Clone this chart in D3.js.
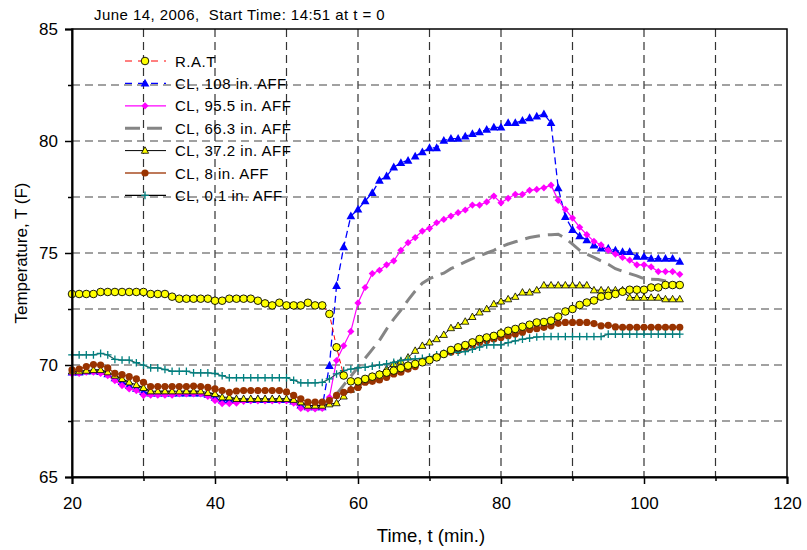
<!DOCTYPE html>
<html>
<head>
<meta charset="utf-8">
<script src="https://cdn.jsdelivr.net/npm/d3@7"></script>
<style>
  body { margin: 0; background: #fff; }
  text { font-family: "Liberation Sans", Arial, sans-serif; }
</style>
</head>
<body>
<script>
// time, min (one reading per minute)
var times = [20,21,22,23,24,25,26,27,28,29,30,31,32,33,34,35,36,37,38,39,40,41,42,43,44,45,46,47,48,49,
  50,51,52,53,54,55,56,57,58,59,60,61,62,63,64,65,66,67,68,69,70,71,72,73,74,75,76,77,78,79,
  80,81,82,83,84,85,86,87,88,89,90,91,92,93,94,95,96,97,98,99,100,101,102,103,104,105];

var rat = [73.17,73.17,73.17,73.17,73.26,73.26,73.26,73.26,73.26,73.26,73.26,73.17,73.17,73.17,73.05,72.96,72.96,72.96,72.96,72.96,
  72.87,72.87,72.96,72.96,72.96,72.96,72.87,72.75,72.66,72.78,72.66,72.66,72.66,72.78,72.66,72.66,72.28,70.79,69.53,69.27,
  69.27,69.38,69.48,69.57,69.66,69.75,69.86,69.97,70.05,70.12,70.22,70.34,70.49,70.67,70.79,70.89,71.01,71.16,71.23,71.30,
  71.41,71.53,71.61,71.71,71.80,71.90,71.92,71.98,72.16,72.39,72.50,72.68,72.79,72.88,73.05,73.09,73.17,73.27,73.36,73.36,
  73.36,73.46,73.46,73.57,73.57,73.57];

var cl108 = [69.68,69.68,69.72,69.73,69.70,69.60,69.42,69.25,69.08,68.95,68.80,68.74,68.74,68.74,68.74,68.74,68.74,68.74,68.74,68.68,
  68.55,68.42,68.42,68.45,68.45,68.45,68.45,68.45,68.45,68.45,68.45,68.38,68.20,68.12,68.12,68.12,69.97,73.54,75.27,76.65,
  76.95,77.32,77.69,78.24,78.43,78.83,79.03,79.13,79.32,79.51,79.69,79.69,80.02,80.11,80.11,80.21,80.32,80.40,80.51,80.61,
  80.61,80.81,80.81,80.91,81.03,81.10,81.20,80.81,77.90,76.62,76.04,75.76,75.58,75.35,75.21,75.21,75.12,75.05,75.05,74.84,
  74.84,74.75,74.75,74.75,74.75,74.62];

var cl95 = [69.60,69.62,69.68,69.68,69.62,69.53,69.30,69.08,68.93,68.86,68.64,68.65,68.65,68.65,68.65,68.71,68.71,68.71,68.71,68.60,
  68.41,68.28,68.28,68.30,68.38,68.40,68.40,68.40,68.40,68.40,68.40,68.30,68.06,68.04,68.04,68.06,68.56,70.20,70.86,71.50,
  72.77,73.46,74.08,74.23,74.47,74.65,75.12,75.46,75.69,75.98,76.10,76.35,76.50,76.65,76.80,76.92,77.14,77.14,77.28,77.54,
  77.24,77.44,77.62,77.62,77.80,77.84,77.91,78.03,77.35,76.95,76.56,76.15,75.82,75.52,75.36,75.12,74.95,74.80,74.68,74.47,
  74.47,74.38,74.17,74.17,74.17,74.05];

var cl66 = [69.70,69.70,69.72,69.75,69.75,69.65,69.50,69.35,69.20,69.08,68.95,68.80,68.80,68.80,68.80,68.80,68.80,68.80,68.80,68.73,
  68.68,68.53,68.53,68.46,68.46,68.46,68.46,68.46,68.46,68.46,68.46,68.42,68.30,68.17,68.17,68.17,68.30,68.70,69.10,69.50,
  69.90,70.30,70.70,71.10,71.60,72.05,72.45,72.90,73.30,73.65,73.85,74.00,74.10,74.30,74.45,74.60,74.75,74.87,75.00,75.12,
  75.28,75.40,75.50,75.60,75.69,75.75,75.80,75.82,75.84,75.65,75.40,75.12,74.95,74.80,74.65,74.50,74.30,74.18,74.08,73.98,
  73.85,73.83,73.82,73.75,73.68,73.60];

var cl37 = [69.72,69.72,69.75,69.78,69.78,69.68,69.53,69.38,69.23,69.11,68.98,68.83,68.83,68.83,68.83,68.83,68.83,68.83,68.83,68.76,
  68.71,68.56,68.56,68.49,68.49,68.49,68.49,68.49,68.49,68.49,68.49,68.45,68.34,68.19,68.19,68.19,68.25,68.30,68.60,68.90,
  69.10,69.30,69.48,69.60,69.82,70.05,70.16,70.34,70.64,70.86,71.01,71.16,71.35,71.65,71.75,71.94,72.15,72.35,72.50,72.72,
  72.84,72.94,73.05,73.24,73.24,73.34,73.56,73.56,73.56,73.56,73.56,73.56,73.56,73.34,73.34,73.34,73.34,73.34,73.01,73.01,
  73.01,73.01,73.01,72.94,72.94,72.94];

var cl8 = [69.78,69.82,69.93,70.02,70.00,69.87,69.63,69.57,69.48,69.38,69.23,69.04,69.04,69.04,69.04,69.04,69.04,69.06,69.04,69.00,
  68.93,68.86,68.78,68.84,68.86,68.86,68.86,68.86,68.86,68.86,68.80,68.64,68.49,68.34,68.34,68.34,68.41,68.64,68.78,68.89,
  69.00,69.23,69.27,69.33,69.45,69.60,69.68,69.82,69.93,70.15,70.23,70.34,70.49,70.57,70.65,70.79,70.89,71.01,71.09,71.16,
  71.23,71.31,71.38,71.46,71.58,71.62,71.68,71.75,71.86,71.90,71.90,71.90,71.90,71.85,71.75,71.77,71.70,71.68,71.68,71.68,
  71.68,71.68,71.68,71.68,71.68,71.68];

var cl01 = [70.45,70.45,70.45,70.45,70.52,70.45,70.25,70.22,70.22,70.10,69.99,69.87,69.87,69.80,69.72,69.72,69.72,69.65,69.65,69.65,
  69.62,69.52,69.43,69.43,69.43,69.43,69.43,69.43,69.43,69.43,69.43,69.32,69.20,69.20,69.20,69.22,69.38,69.60,69.75,69.82,
  69.87,69.90,69.95,70.00,70.05,70.12,70.20,70.25,70.27,70.30,70.35,70.45,70.52,70.57,70.57,70.60,70.70,70.80,70.90,70.90,
  70.90,71.00,71.08,71.15,71.20,71.25,71.27,71.27,71.27,71.27,71.27,71.27,71.27,71.27,71.27,71.38,71.38,71.38,71.38,71.38,
  71.38,71.38,71.38,71.38,71.38,71.38];

var xTicks = [20, 40, 60, 80, 100, 120];
var yTicks = [65, 70, 75, 80, 85];
var xMinor = [30, 50, 70, 90, 110];
var yMinor = [67.5, 72.5, 77.5, 82.5];
var xGrid = [30, 40, 50, 60, 70, 80, 90, 100, 110];
var yGrid = [67.5, 70, 72.5, 75, 77.5, 80, 82.5];

var titleText = "June 14, 2006,  Start Time: 14:51 at t = 0";

var W = 807, H = 550;
var margin = {top: 29, right: 20, bottom: 73, left: 72},
    width = W - margin.left - margin.right,
    height = H - margin.top - margin.bottom;

var svg = d3.select("body").append("svg")
    .attr("width", W)
    .attr("height", H);

var g = svg.append("g")
    .attr("transform", "translate(" + margin.left + "," + margin.top + ")");

var x = d3.scaleLinear().domain([20, 120]).range([0, width]);
var y = d3.scaleLinear().domain([65, 85]).range([height, 0]);

// gridlines
g.append("g").selectAll("line").data(xGrid).enter().append("line")
    .attr("x1", d => x(d)).attr("x2", d => x(d))
    .attr("y1", 0).attr("y2", height)
    .attr("stroke", "#333").attr("stroke-width", 1.2)
    .attr("stroke-dasharray", "8,5");

g.append("g").selectAll("line").data(yGrid).enter().append("line")
    .attr("x1", 0).attr("x2", width)
    .attr("y1", d => y(d)).attr("y2", d => y(d))
    .attr("stroke", "#444").attr("stroke-width", 1.2)
    .attr("stroke-dasharray", "8,5");

// series
var series = [
  {name: "CL, 108 in. AFF", vals: cl108, line: "#0000ff", lw: 1.3, dash: "7,4", marker: "tri", fill: "#0000ff", stroke: "none", ms: 4.6},
  {name: "CL, 95.5 in. AFF", vals: cl95, line: "#ff00ff", lw: 1.2, dash: null, marker: "diamond", fill: "#ff00ff", stroke: "none", ms: 3.6},
  {name: "CL, 66.3 in. AFF", vals: cl66, line: "#858585", lw: 3, dash: "15,8", marker: null},
  {name: "CL, 37.2 in. AFF", vals: cl37, line: "#000000", lw: 1, dash: null, marker: "tri", fill: "#ffff00", stroke: "#000", ms: 3.8},
  {name: "CL, 8 in. AFF", vals: cl8, line: "#a84c22", lw: 1.5, dash: null, marker: "circle", fill: "#993300", stroke: "none", ms: 3.6},
  {name: "CL, 0.1 in. AFF", vals: cl01, line: "#1f5f5f", lw: 1.2, dash: null, marker: "plus", fill: "none", stroke: "#008080", ms: 3.8},
  {name: "R.A.T", vals: rat, line: "#ff0000", lw: 1, dash: "5,3", marker: "circle", fill: "#ffff00", stroke: "#000", ms: 3.8}
];

function markerPath(type, s) {
  if (type === "tri") return "M0," + (-s) + "L" + (s * 0.95) + "," + (s * 0.7) + "L" + (-s * 0.95) + "," + (s * 0.7) + "Z";
  if (type === "diamond") return "M0," + (-s) + "L" + s + ",0L0," + s + "L" + (-s) + ",0Z";
  if (type === "plus") return "M" + (-s) + ",0H" + s + "M0," + (-s) + "V" + s;
  return null;
}

function drawMarker(sel, s) {
  if (!s.marker) return;
  if (s.marker === "circle") {
    sel.append("circle").attr("r", s.ms)
      .attr("fill", s.fill).attr("stroke", s.stroke).attr("stroke-width", 0.9);
  } else {
    sel.append("path").attr("d", markerPath(s.marker, s.ms))
      .attr("fill", s.fill).attr("stroke", s.stroke)
      .attr("stroke-width", s.marker === "plus" ? 1.3 : 0.8);
  }
}

var line = d3.line()
    .x((d, i) => x(times[i]))
    .y(d => y(d));

series.forEach(function (s) {
  var sg = g.append("g");
  sg.append("path")
    .datum(s.vals)
    .attr("fill", "none")
    .attr("stroke", s.line)
    .attr("stroke-width", s.lw)
    .attr("stroke-dasharray", s.dash)
    .attr("d", line);
  if (s.marker) {
    sg.selectAll("g.pt").data(s.vals).enter().append("g")
      .attr("class", "pt")
      .attr("transform", (d, i) => "translate(" + x(times[i]) + "," + y(d) + ")")
      .each(function () { drawMarker(d3.select(this), s); });
  }
});

// frame
g.append("rect")
    .attr("width", width).attr("height", height)
    .attr("fill", "none").attr("stroke", "#000").attr("stroke-width", 1.5);

// minor ticks
g.append("g")
    .attr("transform", "translate(0," + height + ")")
    .call(d3.axisBottom(x).tickValues(xMinor).tickSize(4).tickFormat(""))
    .call(a => a.select(".domain").remove());
g.append("g")
    .call(d3.axisLeft(y).tickValues(yMinor).tickSize(4).tickFormat(""))
    .call(a => a.select(".domain").remove());

// axes
var xAxis = g.append("g")
    .attr("transform", "translate(0," + height + ")")
    .call(d3.axisBottom(x).tickValues(xTicks).tickSize(7).tickPadding(13));
var yAxis = g.append("g")
    .call(d3.axisLeft(y).tickValues(yTicks).tickSize(7).tickPadding(7));

g.selectAll(".tick line").attr("stroke", "#000").attr("stroke-width", 1.5);
[xAxis, yAxis].forEach(function (a) {
  a.select(".domain").attr("stroke", "#000").attr("stroke-width", 2);
  a.selectAll("text").attr("font-size", 17).attr("fill", "#000")
    .attr("font-family", "Liberation Sans, Arial, sans-serif");
});

// titles
svg.append("text")
    .attr("x", 94).attr("y", 20)
    .attr("font-size", 15)
    .attr("letter-spacing", 0.45)
    .style("white-space", "pre")
    .text(titleText);

svg.append("text")
    .attr("x", 431).attr("y", 542)
    .attr("text-anchor", "middle").attr("font-size", 18.5)
    .text("Time, t (min.)");

svg.append("text")
    .attr("transform", "translate(27," + (margin.top + height / 2) + ") rotate(-90)")
    .attr("text-anchor", "middle").attr("font-size", 17)
    .text("Temperature, T (F)");

// legend
var legendOrder = [series[6], series[0], series[1], series[2], series[3], series[4], series[5]];
var legendLines = ["#ff0000", "#0000ff", "#ff00ff", "#858585", "#000000", "#a84c22", "#000000"];
var lg = svg.append("g").attr("transform", "translate(125,61)");
legendOrder.forEach(function (s, i) {
  var row = lg.append("g").attr("transform", "translate(0," + (i * 22.4) + ")");
  row.append("line")
    .attr("x1", 0).attr("x2", 41).attr("y1", 0).attr("y2", 0)
    .attr("stroke", legendLines[i]).attr("stroke-width", s.lw)
    .attr("stroke-dasharray", s.dash ? (s.lw > 2 ? "15,7" : "7,6") : null);
  var m = row.append("g").attr("transform", "translate(20,0)");
  drawMarker(m, s);
  row.append("text")
    .attr("x", 50).attr("y", 5.5)
    .attr("font-size", 15)
    .attr("letter-spacing", 0.5)
    .text(s.name);
});
</script>
</body>
</html>
